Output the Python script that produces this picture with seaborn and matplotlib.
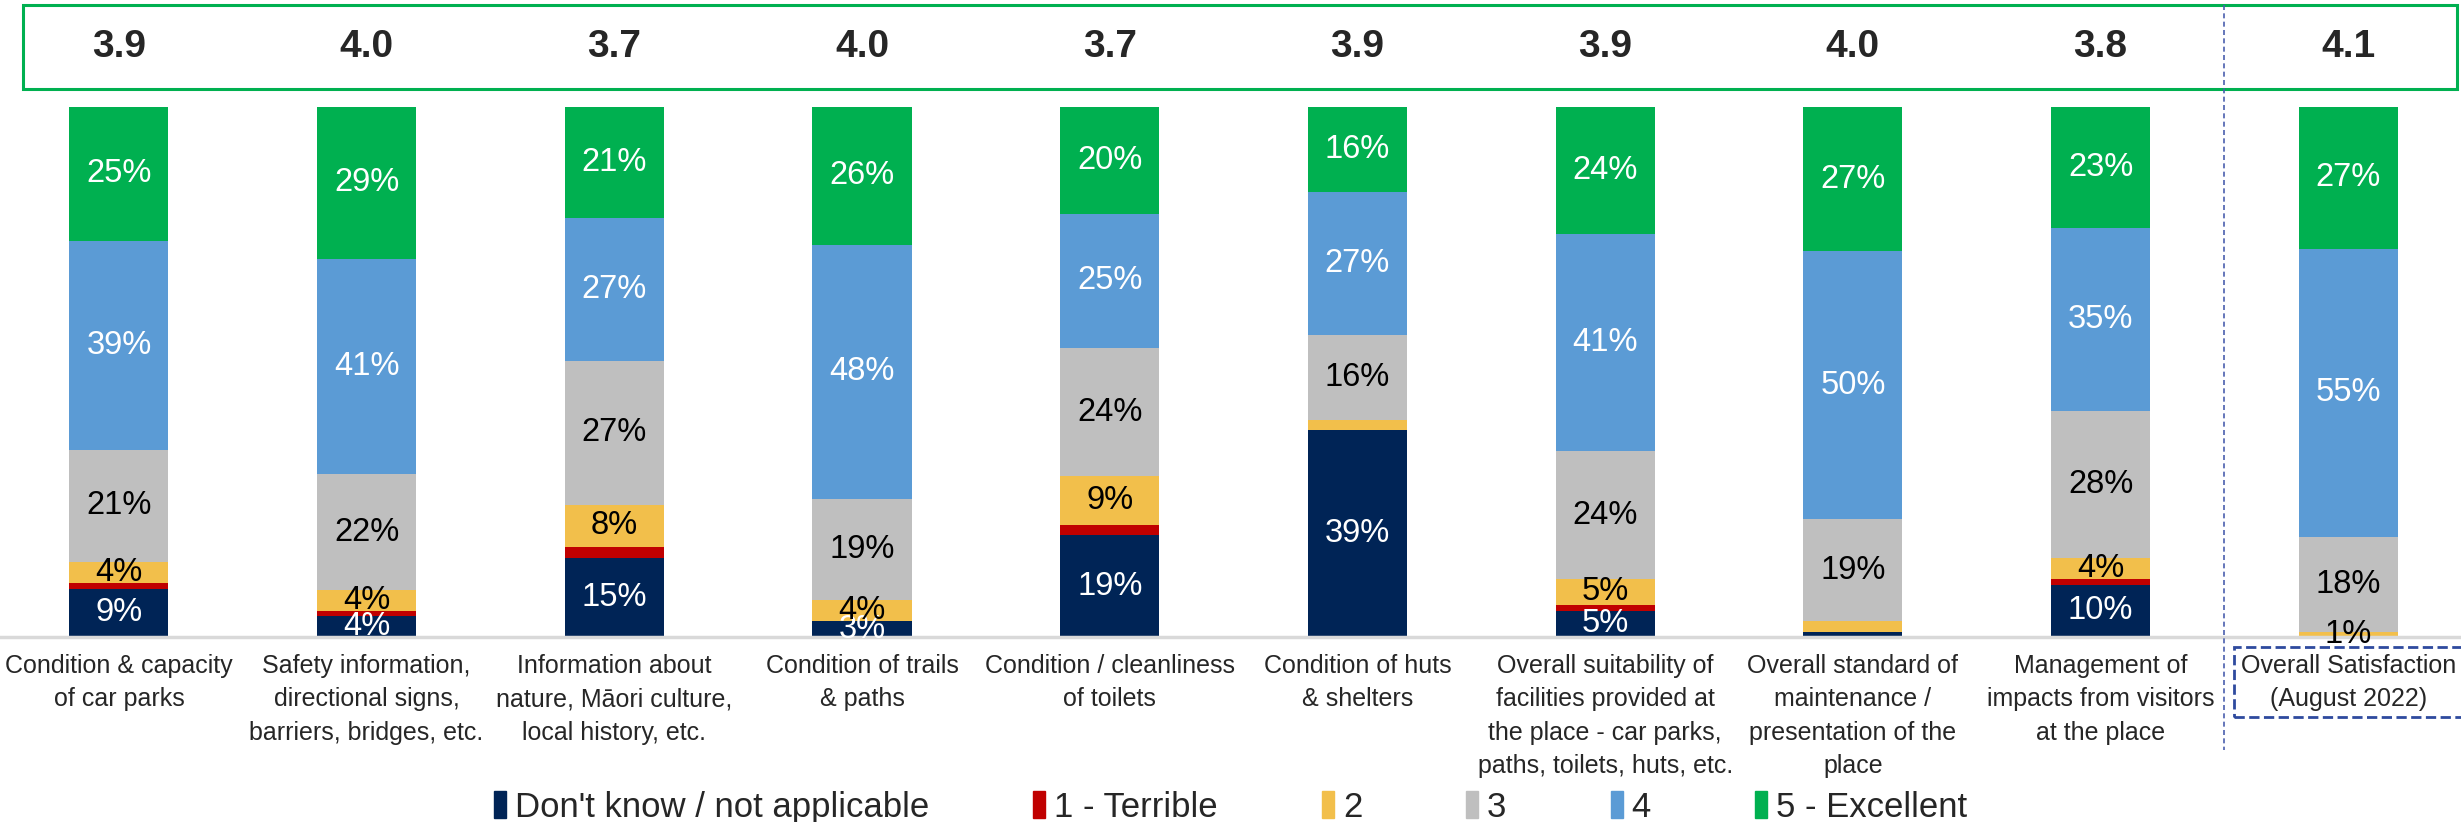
import pandas as pd
import numpy as np
import matplotlib.pyplot as plt
import matplotlib.patches as mpatches
import matplotlib.transforms as mtransforms
from matplotlib.lines import Line2D
import seaborn as sns

# chart data
items = ['Condition & capacity\nof car parks',
         'Safety information,\ndirectional signs,\nbarriers, bridges, etc.',
         'Information about\nnature, Māori culture,\nlocal history, etc.',
         'Condition of trails\n& paths',
         'Condition / cleanliness\nof toilets',
         'Condition of huts\n& shelters',
         'Overall suitability of\nfacilities provided at\nthe place - car parks,\npaths, toilets, huts, etc.',
         'Overall standard of\nmaintenance /\npresentation of the\nplace',
         'Management of\nimpacts from visitors\nat the place',
         'Overall Satisfaction\n(August 2022)']
scores = ['3.9', '4.0', '3.7', '4.0', '3.7', '3.9', '3.9', '4.0', '3.8', '4.1']

ratings = ["Don't know / not applicable", '1 - Terrible', '2', '3', '4', '5 - Excellent']
dont_know = [9, 4, 15, 3, 19, 39, 5, 1, 10, 0]
terrible = [1, 1, 2, 0, 2, 0, 1, 0, 1, 0]
two = [4, 4, 8, 4, 9, 2, 5, 2, 4, 1]
three = [21, 22, 27, 19, 24, 16, 24, 19, 28, 18]
four = [39, 41, 27, 48, 25, 27, 41, 50, 35, 55]
excellent = [25, 29, 21, 26, 20, 16, 24, 27, 23, 27]

colors = ['#002456', '#c00000', '#f2bf4b', '#bfbfbf', '#5b9bd5', '#00b050']
label_colors = ['white', None, 'black', 'black', 'white', 'white']
# small labels that were kept on the chart anyway
keep_small = [(9, 2)]

sns.set_style('white')
plt.rcParams['font.family'] = ['Liberation Sans', 'DejaVu Sans']

df = pd.DataFrame(np.array([dont_know, terrible, two, three, four, excellent]).T,
                  columns=ratings)
df['item'] = items
totals = df[ratings].sum(axis=1)

fig = plt.figure(figsize=(24.61, 8.22), dpi=100)
ax = fig.add_axes([0, 0.225, 1, 0.645])

bottom = np.zeros(len(items))
for j, r in enumerate(ratings):
    share = (df[r] / totals * 100).values
    sns.barplot(x=df['item'], y=share, order=items, color=colors[j], width=0.4,
                bottom=bottom, ax=ax, saturation=1, linewidth=0)
    if label_colors[j] is not None:
        for i in range(len(items)):
            v = df[r].iloc[i]
            if v >= 3 or (i, j) in keep_small:
                ax.text(i, bottom[i] + share[i] / 2, f'{v}%', ha='center', va='center',
                        fontsize=23.5, color=label_colors[j])
    bottom = bottom + share

ax.set_xlim(-0.48, 9.455)
ax.set_ylim(0, 100)
ax.set_xlabel('')
ax.set_ylabel('')
ax.set_yticks([])
ax.set_xticks(range(len(items)))
ax.set_xticklabels(items, fontsize=18, linespacing=1.5)
ax.tick_params(axis='x', length=0, pad=12)
for s in ['top', 'left', 'right']:
    ax.spines[s].set_visible(False)
ax.spines['bottom'].set_color('#d9d9d9')
ax.spines['bottom'].set_linewidth(2.5)

last = ax.get_xticklabels()[-1]
last.set_bbox(dict(boxstyle='square,pad=0.25', fc='none', ec='#2e4a9e', ls='--', lw=2))

# average scores in the green box on top
trans = mtransforms.blended_transform_factory(ax.transData, fig.transFigure)
for i, s in enumerate(scores):
    ax.text(i, 0.943, s, transform=trans, ha='center', va='center',
            fontsize=28, fontweight='bold', clip_on=False)
fig.add_artist(mpatches.Rectangle((0.0093, 0.892), 0.989, 0.102, transform=fig.transFigure,
                                  fill=False, ec='#00b050', lw=2.2))

# dotted separator before overall satisfaction
fig.add_artist(Line2D([8.5, 8.5], [0.994, 0.088], transform=trans, color='#4a5fae',
                      lw=1.2, ls=(0, (3, 2))))

handles = [mpatches.Patch(color=c, label=r) for c, r in zip(colors, ratings)]
fig.legend(handles=handles, loc='lower center', bbox_to_anchor=(0.5, -0.04), ncol=6,
           frameon=False, fontsize=25, handlelength=0.35, handleheight=0.8,
           handletextpad=0.25, columnspacing=3.0)

plt.savefig('out.png', dpi=100)
